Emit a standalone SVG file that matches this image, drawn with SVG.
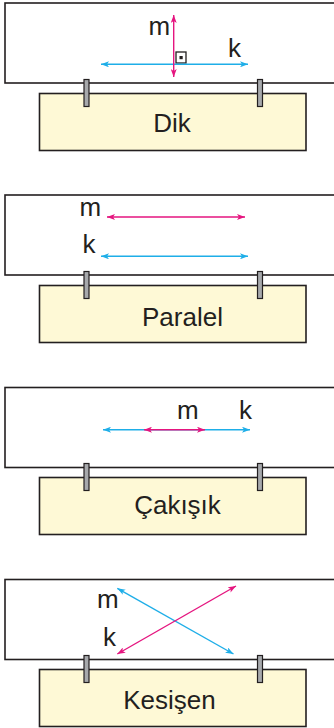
<svg xmlns="http://www.w3.org/2000/svg" width="334" height="728" viewBox="0 0 334 728">
<defs>
<style>
.board{fill:#fff;stroke:#231f20;stroke-width:1.6}
.sign{fill:#fef9d6;stroke:#231f20;stroke-width:1.6}
.clip{fill:#a7a9ac;stroke:#231f20;stroke-width:1.2}
.lbl{font-family:"Liberation Sans",Arial,sans-serif;font-size:26px;fill:#231f20}
.blue{stroke:#1eaee8;stroke-width:1.4;fill:none;marker-start:url(#ab);marker-end:url(#ab)}
.mag{stroke:#e5157f;stroke-width:1.4;fill:none;marker-start:url(#am);marker-end:url(#am)}
</style>
<marker id="ab" viewBox="0 0 8 6" refX="8" refY="3" markerWidth="8" markerHeight="6" markerUnits="userSpaceOnUse" orient="auto-start-reverse"><path d="M0,0 L8,3 L0,6 L2,3 Z" fill="#1eaee8"/></marker>
<marker id="am" viewBox="0 0 8 6" refX="8" refY="3" markerWidth="8" markerHeight="6" markerUnits="userSpaceOnUse" orient="auto-start-reverse"><path d="M0,0 L8,3 L0,6 L2,3 Z" fill="#e5157f"/></marker>
</defs>

<g id="panel-dik">
<rect class="board" x="5" y="3" width="340" height="80"/>
<rect class="sign" x="39.5" y="93.5" width="266.5" height="57"/>
<rect class="clip" x="84" y="79.5" width="5" height="27"/>
<rect class="clip" x="257.5" y="79.5" width="5" height="27"/>
<text class="lbl" x="172" y="132" text-anchor="middle">Dik</text>
<text class="lbl" x="148.5" y="35">m</text>
<text class="lbl" x="228" y="57">k</text>
<rect x="176" y="52" width="10" height="11" fill="#fff" stroke="#231f20" stroke-width="1.3"/>
<rect x="179.5" y="56" width="3.2" height="3.2" fill="#231f20"/>
</g>

<g id="panel-paralel">
<rect class="board" x="5" y="195" width="340" height="80"/>
<rect class="sign" x="39.5" y="285.5" width="266.5" height="57"/>
<rect class="clip" x="84" y="271.5" width="5" height="27"/>
<rect class="clip" x="257.5" y="271.5" width="5" height="27"/>
<text class="lbl" x="182.5" y="326" text-anchor="middle">Paralel</text>
<text class="lbl" x="79.5" y="216">m</text>
<text class="lbl" x="82.5" y="252.5">k</text>
</g>

<g id="panel-cakisik">
<rect class="board" x="5" y="387.5" width="340" height="80"/>
<rect class="sign" x="39.5" y="477.5" width="266.5" height="57"/>
<rect class="clip" x="84" y="463.5" width="5" height="27"/>
<rect class="clip" x="257.5" y="463.5" width="5" height="27"/>
<text class="lbl" x="177.5" y="514" text-anchor="middle">Çakışık</text>
<text class="lbl" x="177" y="419">m</text>
<text class="lbl" x="239" y="419">k</text>
</g>

<g id="panel-kesisen">
<rect class="board" x="5" y="579.5" width="340" height="80"/>
<rect class="sign" x="39.5" y="669.5" width="266.5" height="57"/>
<rect class="clip" x="84" y="655.5" width="5" height="27"/>
<rect class="clip" x="257.5" y="655.5" width="5" height="27"/>
<text class="lbl" x="169.5" y="709" text-anchor="middle">Kesişen</text>
<text class="lbl" x="97" y="607.5">m</text>
<text class="lbl" x="103" y="646">k</text>
</g>

<g id="connectors">
<line class="blue" x1="101" y1="64.3" x2="248" y2="64.3"/>
<line class="mag" x1="173.7" y1="77" x2="173.7" y2="15"/>
<line class="mag" x1="107" y1="217" x2="245" y2="217"/>
<line class="blue" x1="101" y1="256.3" x2="248" y2="256.3"/>
<line class="blue" x1="103" y1="429.7" x2="250" y2="429.7"/>
<line class="mag" x1="144" y1="429.7" x2="205" y2="429.7"/>
<line class="blue" x1="117.3" y1="588.3" x2="233.5" y2="654"/>
<line class="mag" x1="117.3" y1="654" x2="236" y2="586"/>
</g>
</svg>
